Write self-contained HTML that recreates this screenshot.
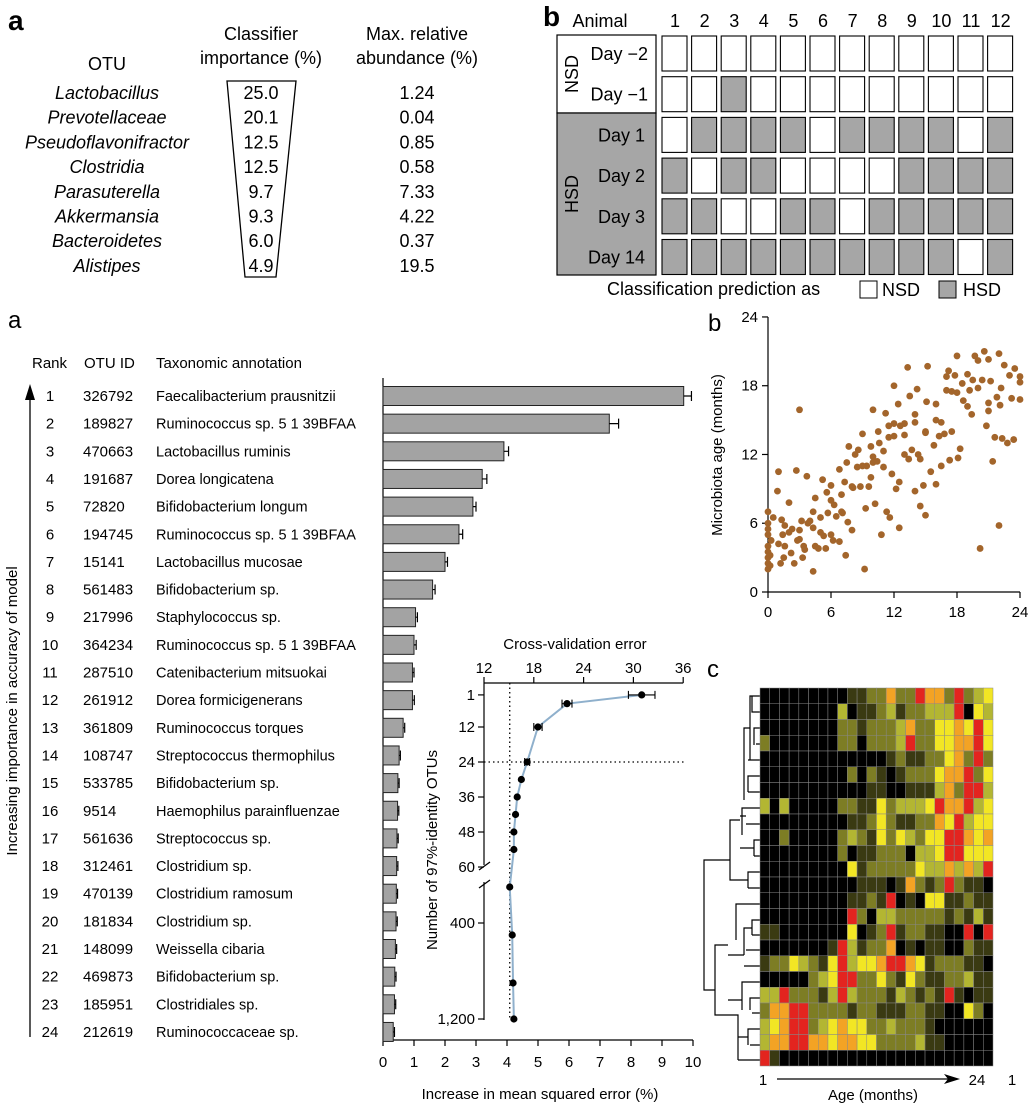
<!DOCTYPE html>
<html><head><meta charset="utf-8"><style>
body{margin:0;background:#fff}
svg{display:block;font-family:"Liberation Sans",Arial,sans-serif}
</style></head><body>
<svg id="s" width="1029" height="1106" viewBox="0 0 1029 1106" xmlns="http://www.w3.org/2000/svg">
<g id="topA">
<text x="8" y="30" font-size="28" font-weight="bold">a</text>
<text x="107" y="70" font-size="18" text-anchor="middle">OTU</text>
<text x="261" y="40" font-size="18" text-anchor="middle">Classifier</text>
<text x="261" y="64" font-size="18" text-anchor="middle">importance (%)</text>
<text x="417" y="40" font-size="18" text-anchor="middle">Max. relative</text>
<text x="417" y="64" font-size="18" text-anchor="middle">abundance (%)</text>
<polygon points="227,81 296,81 276,277 245,277" fill="none" stroke="#000" stroke-width="1.3"/>
</g>
<g id="topB">
<text x="543" y="26" font-size="28" font-weight="bold">b</text>
<text x="600" y="27" font-size="18" text-anchor="middle">Animal</text>
<rect x="557" y="35" width="99" height="78" fill="#fff" stroke="#000" stroke-width="1.2"/>
<rect x="557" y="113" width="99" height="162" fill="#a6a6a6" stroke="#000" stroke-width="1.2"/>
<text transform="translate(578,74) rotate(-90)" font-size="18" text-anchor="middle">NSD</text>
<text transform="translate(578,194) rotate(-90)" font-size="18" text-anchor="middle">HSD</text>
<text x="607" y="295" font-size="18" text-anchor="start">Classification prediction as</text>
<rect x="860" y="281" width="17" height="17" fill="#fff" stroke="#000"/>
<text x="882" y="296" font-size="18">NSD</text>
<rect x="939" y="281" width="17" height="17" fill="#a6a6a6" stroke="#000"/>
<text x="963" y="296" font-size="18">HSD</text>
</g>
<g id="botA">
<text x="8" y="328" font-size="24">a</text>
<text x="32" y="368" font-size="15">Rank</text>
<text x="84" y="368" font-size="15">OTU ID</text>
<text x="156" y="368" font-size="15">Taxonomic annotation</text>
<line x1="30" y1="1037" x2="30" y2="395" stroke="#000" stroke-width="1.3"/>
<polygon points="30,384 25,400 35,400" fill="#000"/>
<text transform="translate(17,711) rotate(-90)" font-size="15" text-anchor="middle">Increasing importance in accuracy of model</text>
<text x="540" y="1099" font-size="15" text-anchor="middle">Increase in mean squared error (%)</text>
<text x="575" y="649" font-size="15" text-anchor="middle">Cross-validation error</text>
<text transform="translate(437,850) rotate(-90)" font-size="15" text-anchor="middle">Number of 97%-identity OTUs</text>
</g>
<g id="scat">
<text x="708" y="331" font-size="24">b</text>
<text transform="translate(722,455) rotate(-90)" font-size="15" text-anchor="middle">Microbiota age (months)</text>
</g>
<g id="heat">
<text x="707" y="677" font-size="24">c</text>
<text x="763" y="1085" font-size="15" text-anchor="middle">1</text>
<line x1="777" y1="1079" x2="948" y2="1079" stroke="#000" stroke-width="1.3"/>
<polygon points="960,1079 944,1074 948,1079 944,1084" fill="#000"/>
<text x="977" y="1085" font-size="15" text-anchor="middle">24</text>
<text x="1012" y="1085" font-size="15" text-anchor="middle">1</text>
<text x="873" y="1100" font-size="15" text-anchor="middle">Age (months)</text>
<path d="M760,696 H750 V760 M760,712 H752 V696 M760,728 H754 V745 M760,744 H756 M760,760 H748 M750,728 H744 V800 M760,776 H748 V792 M760,792 H748 M760,808 H742 V835 M760,824 H746 M746,816 H740 M760,840 H754 V856 M760,856 H754 M754,848 H740 M760,872 H748 V888 M760,888 H748 M748,880 H730 V820 H740 M760,904 H736 V940 M760,920 H752 V935 M760,935 H752 M752,928 H744 V955 M760,950 H746 M760,966 H744 M760,982 H742 V1010 M760,998 H750 V1010 M760,1013 H752 M760,1029 H748 V1045 M760,1045 H750 M748,1037 H738 M742,1000 H728 M744,955 H728 M728,945 H715 V1015 H738 V1060 M760,1060 H738 M730,860 H704 V990 H715" fill="none" stroke="#000" stroke-width="1.2"/>
</g>
</svg>
<script>
var NS="http://www.w3.org/2000/svg";
function mk(tag,attrs,parent,txt){var e=document.createElementNS(NS,tag);for(var k in attrs)e.setAttribute(k,attrs[k]);if(txt!==undefined)e.textContent=txt;(parent||document.getElementById('s')).appendChild(e);return e;}

// ---- top table data
var otuNames=["Lactobacillus","Prevotellaceae","Pseudoflavonifractor","Clostridia","Parasuterella","Akkermansia","Bacteroidetes","Alistipes"];
var importance=["25.0","20.1","12.5","12.5","9.7","9.3","6.0","4.9"];
var abundance=["1.24","0.04","0.85","0.58","7.33","4.22","0.37","19.5"];
var gA=document.getElementById('topA');
for(var i=0;i<otuNames.length;i++){
  var y=99+i*24.7;
  var t=mk('text',{x:107,y:y,'font-size':18,'font-style':'italic','text-anchor':'middle'},gA,otuNames[i]);
  
  
  t=mk('text',{x:261,y:y,'font-size':18,'text-anchor':'middle'},gA,importance[i]);
  
  
  t=mk('text',{x:417,y:y,'font-size':18,'text-anchor':'middle'},gA,abundance[i]);
  
  
}

// ---- classification grid
var animals=["1","2","3","4","5","6","7","8","9","10","11","12"];
var dayLabels=["Day \u22122","Day \u22121","Day 1","Day 2","Day 3","Day 14"];
var predRows=["000000000000","001000000000","011110111101","101100001111","110011011111","111111111101"];
var gB=document.getElementById('topB');
for(var c=0;c<12;c++){
  var t=mk('text',{x:675+c*29.6,y:27,'font-size':18,'text-anchor':'middle'},gB,animals[c]);
  
  
}
for(var r=0;r<6;r++){
  var t=mk('text',{x:r<2?648:645,y:60+r*40.7,'font-size':18,'text-anchor':'end'},gB,dayLabels[r]);
  
  
  for(var c=0;c<12;c++){
    var rc=mk('rect',{x:662+c*29.6,y:36+r*40.7,width:25,height:35,fill:predRows[r][c]==='1'?'#a6a6a6':'#fff',stroke:'#000','stroke-width':1.1},gB);
    
    
  }
}

// ---- bar chart
var ranks=["1","2","3","4","5","6","7","8","9","10","11","12","13","14","15","16","17","18","19","20","21","22","23","24"];
var otuIds=["326792","189827","470663","191687","72820","194745","15141","561483","217996","364234","287510","261912","361809","108747","533785","9514","561636","312461","470139","181834","148099","469873","185951","212619"];
var taxa=["Faecalibacterium prausnitzii","Ruminococcus sp. 5 1 39BFAA","Lactobacillus ruminis","Dorea longicatena","Bifidobacterium longum","Ruminococcus sp. 5 1 39BFAA","Lactobacillus mucosae","Bifidobacterium sp.","Staphylococcus sp.","Ruminococcus sp. 5 1 39BFAA","Catenibacterium mitsuokai","Dorea formicigenerans","Ruminococcus torques","Streptococcus thermophilus","Bifidobacterium sp.","Haemophilus parainfluenzae","Streptococcus sp.","Clostridium sp.","Clostridium ramosum","Clostridium sp.","Weissella cibaria","Bifidobacterium sp.","Clostridiales sp.","Ruminococcaceae sp."];
var mseValues=[9.7,7.3,3.9,3.2,2.9,2.45,2.0,1.6,1.05,1.0,0.95,0.95,0.65,0.52,0.48,0.47,0.45,0.44,0.43,0.42,0.4,0.38,0.37,0.33];
var mseErrors=[0.25,0.3,0.15,0.15,0.1,0.12,0.08,0.08,0.06,0.07,0.05,0.06,0.05,0.04,0.04,0.04,0.04,0.04,0.04,0.04,0.04,0.04,0.04,0.04];
var xTicks=[0,1,2,3,4,5,6,7,8,9,10];
var gA2=document.getElementById('botA');
function bx(v){return 383+v*31;}
function by(i){return 396+i*27.65;}
var ax=mk('line',{x1:383,y1:378,x2:383,y2:1040,stroke:'#000','stroke-width':1.2},gA2);


ax=mk('line',{x1:383,y1:1040,x2:bx(10),y2:1040,stroke:'#000','stroke-width':1.2},gA2);


for(var k=0;k<xTicks.length;k++){
  var tk=mk('line',{x1:bx(xTicks[k]),y1:1040,x2:bx(xTicks[k]),y2:1046,stroke:'#000','stroke-width':1.2},gA2);
  
  
  var tl=mk('text',{x:bx(xTicks[k]),y:1067,'font-size':15,'text-anchor':'middle'},gA2,String(xTicks[k]));
  
  
}
for(var i=0;i<ranks.length;i++){
  var y=by(i);
  var t=mk('text',{x:50,y:y+5,'font-size':15,'text-anchor':'middle'},gA2,ranks[i]);
  
  
  t=mk('text',{x:83,y:y+5,'font-size':15},gA2,otuIds[i]);
  
  
  t=mk('text',{x:156,y:y+5,'font-size':14.5},gA2,taxa[i]);
  
  
  var b=mk('rect',{x:383,y:y-9.5,width:bx(mseValues[i])-383,height:19,fill:'#a3a3a3',stroke:'#222','stroke-width':1},gA2);
  
  
  var e1=bx(mseValues[i]),e2=bx(mseValues[i]+mseErrors[i]);
  var eb=mk('path',{d:'M'+e1+','+(y)+' H'+e2+' M'+e2+','+(y-5)+' V'+(y+5),stroke:'#000','stroke-width':1.2,fill:'none'},gA2);
  
  
}

// ---- inset cross-validation
var cvTicks=[12,18,24,30,36];
var otuTicksTop=[1,12,24,36,48,60];
var otuTicksBot=[400,1200];
var cvN=[1,4,12,24,30,36,42,48,54,100,500,900,1200];
var cvErr=[31,22,18.5,17.2,16.5,16.0,15.8,15.6,15.6,15.1,15.4,15.5,15.6];
var cvSd=[1.6,0.6,0.5,0.3,0,0,0,0,0,0,0,0,0];
function cx(v){return 484+(v-12)*8.3;}
function cy(n){return n<=60?762+(n-24)*2.917:923+(n-400)*0.12;}
var ia=mk('line',{x1:484,y1:683,x2:cx(36),y2:683,stroke:'#000','stroke-width':1.2},gA2);


ia=mk('path',{d:'M484,683 V865 M484,882 V1020',stroke:'#000','stroke-width':1.2,fill:'none'},gA2);


ia=mk('path',{d:'M479,870 L490,862 M479,888 L490,880',stroke:'#000','stroke-width':1.3,fill:'none'},gA2);


for(var k=0;k<cvTicks.length;k++){
  var tk=mk('line',{x1:cx(cvTicks[k]),y1:683,x2:cx(cvTicks[k]),y2:677,stroke:'#000','stroke-width':1.2},gA2);
  
  
  var tl=mk('text',{x:cx(cvTicks[k]),y:673,'font-size':15,'text-anchor':'middle'},gA2,String(cvTicks[k]));
  
  
}
var allOt=otuTicksTop.concat(otuTicksBot);
for(var k=0;k<allOt.length;k++){
  var yy=cy(allOt[k]);
  var tk=mk('line',{x1:478,y1:yy,x2:484,y2:yy,stroke:'#000','stroke-width':1.2},gA2);
  
  
  var tl=mk('text',{x:475,y:yy+5,'font-size':15,'text-anchor':'end'},gA2,allOt[k]===1200?'1,200':String(allOt[k]));
  
  
}
var dl=mk('line',{x1:cx(15.1),y1:683,x2:cx(15.1),y2:1020,stroke:'#000','stroke-width':1.3,'stroke-dasharray':'1.5,3'},gA2);


dl=mk('line',{x1:484,y1:cy(24),x2:686,y2:cy(24),stroke:'#000','stroke-width':1.3,'stroke-dasharray':'1.5,3'},gA2);


var pts=[];
for(var i=0;i<cvN.length;i++)pts.push(cx(cvErr[i])+','+cy(cvN[i]));
var pl=mk('polyline',{points:pts.join(' '),fill:'none',stroke:'#8fb0cc','stroke-width':2},gA2);


for(var i=0;i<cvN.length;i++){
  var px=cx(cvErr[i]),py=cy(cvN[i]);
  if(cvSd[i]>0){
    var a=cx(cvErr[i]-cvSd[i]),b2=cx(cvErr[i]+cvSd[i]);
    var e=mk('path',{d:'M'+a+','+py+' H'+b2+' M'+a+','+(py-4)+' V'+(py+4)+' M'+b2+','+(py-4)+' V'+(py+4),stroke:'#000','stroke-width':1.1,fill:'none'},gA2);
    
    
  }
  var d=mk('circle',{cx:px,cy:py,r:3.6,fill:'#000'},gA2);
  
  
}

// ---- scatter
var chronAge=[0,0,0,0,0,0,0,0,0,0.2,0.2,0.3,1,0.9,1.2,1.3,1.4,1.5,1.6,1.6,2,2.2,2.3,2.5,2.7,2.8,3,3,3.2,3.3,3.4,3.5,3.7,3.8,4.3,4.3,4.3,4.5,4.5,4.8,5,5.2,5.3,5.5,5.6,5.7,6,6,6.2,6.3,6.5,6.8,6.8,7,7.1,7.3,7.4,7.5,7.7,7.6,8,8.1,8.3,8.5,8.6,8.8,9,9.2,9.3,9.4,9.6,9.8,10,10,10.2,10.4,10.6,10.8,11,11.2,11.3,11.5,11.6,11.8,12,12,12.2,12.4,12.5,12.6,13,13.3,13.4,13.5,13.7,14,14,14.2,14.5,14.5,14.8,15,15,15.1,15.2,15.5,15.8,16,16,16.3,16.5,16.8,17,17.2,17.3,17.5,17.8,18,18,18.1,18.3,18.6,19,19.2,19.4,19.5,19.7,20,20,20.2,20.4,20.6,20.8,21,21,21.2,21.4,21.6,21.8,22,22,22.2,22.3,22.5,22.8,23,23.2,23.5,24,24,24,23.4,22.1,21,19,18.5,17,16,15,14,13,12,11,10,9,8,7,6,5,4,3,2,1,0.5,12.5,13,14.3,11.5,10.5,9.8,16.5,17.5];
var microAge=[2,2.5,3,3.5,4,5,5.5,6,7,2.3,3.2,4.5,10.5,8.8,2.5,6.3,5,3,4,5.8,7.8,3.4,5.5,2.5,10.6,4.5,15.9,5.4,6.2,3,4,3.7,10.1,6,1.8,5.6,7,8.2,4,3.8,6.5,9.8,4.9,3.8,8.7,6.9,9.3,5,4.5,7.6,6.6,10.7,4.4,8.5,6.9,9.6,3.2,11.3,12.7,6.1,5.4,9.1,12,10.9,12.4,9.2,13.8,2,7.3,11,9.2,12.7,15.9,11.3,7.7,11.4,13,5,10.9,15.6,7,13.5,6.5,10.3,18,14.7,9,16.4,5.6,14.5,13.7,19.6,11.6,17.1,12.4,15.5,8.8,17.7,11.6,7.5,9.3,13.9,6.7,16.6,19.7,10.5,12.8,15,9.4,13.6,11,13.8,17.6,19.3,11.5,14,18.9,20.6,17.4,11.7,12.5,16.7,19,17.6,15.5,18.5,20.6,20.2,17.8,3.8,18.5,21,14.5,20.3,16.5,18.4,11.4,13.5,17,20.8,5.8,17.8,13.4,19.8,13,18.9,16.9,19.5,18.3,18.8,16.8,13.3,16.3,15.8,16.2,18.2,18.8,16.4,14,14.8,12,13.6,12.3,11.8,11,9.2,7,8,5.2,6.2,4.6,5.2,4.2,6.5,9.6,14.7,12,14.5,14,10,14.8,17.5];
var scatTicks=[0,6,12,18,24];
var gS=document.getElementById('scat');
function sx(v){return 768+v*10.5;}
function sy(v){return 592-v*11.46;}
var sa=mk('path',{d:'M768,317 V592 H1020',fill:'none',stroke:'#000','stroke-width':1.2},gS);


for(var k=0;k<scatTicks.length;k++){
  var v=scatTicks[k];
  var t1=mk('line',{x1:sx(v),y1:592,x2:sx(v),y2:598,stroke:'#000','stroke-width':1.2},gS);
  
  
  var l1=mk('text',{x:sx(v),y:617,'font-size':15,'text-anchor':'middle'},gS,String(v));
  
  
  var t2=mk('line',{x1:762,y1:sy(v),x2:768,y2:sy(v),stroke:'#000','stroke-width':1.2},gS);
  
  
  var l2=mk('text',{x:758,y:sy(v)+5,'font-size':15,'text-anchor':'end'},gS,String(v));
  
  
}
for(var i=0;i<chronAge.length;i++){
  var p=mk('circle',{cx:sx(chronAge[i]),cy:sy(microAge[i]),r:3.4,fill:'#a3652b'},gS);
  
  
}

// ---- heatmap
var heatRows=["000000000112252265526234","000000003011231223336043","000000002212223522445464","200000002202223622445564","000000000000012112245262","000000000202101222455624","000000000001100111352663","303000002211423334655634","000000000112421122546344","002000002321424324466545","000000002011222033466444","000000000412222243353536","000000000011101521262110","000000000112160104411211","000000000620332222212131","110000000401261221100606","000000016312250101100211","122432146344566541222110","000002346622421421122311","336222136322213212161011","255662222122111221100420","345662345442232221000000","355665545544222231100000","610000000000000000000000"];
var heatColors=["#000000","#3a3a12","#7d7d24","#b3b632","#f2e624","#f3a324","#e3241f"];
var gH=document.getElementById('heat');
var cw=(993-760)/24,ch=(1066-688)/24;
for(var r=0;r<heatRows.length;r++){
  for(var c=0;c<24;c++){
    var cell=mk('rect',{x:760+c*cw,y:688+r*ch,width:cw,height:ch,fill:heatColors[+heatRows[r][c]],stroke:'#888','stroke-width':0.5},gH);
    
    
  }
}
</script>
</body></html>
